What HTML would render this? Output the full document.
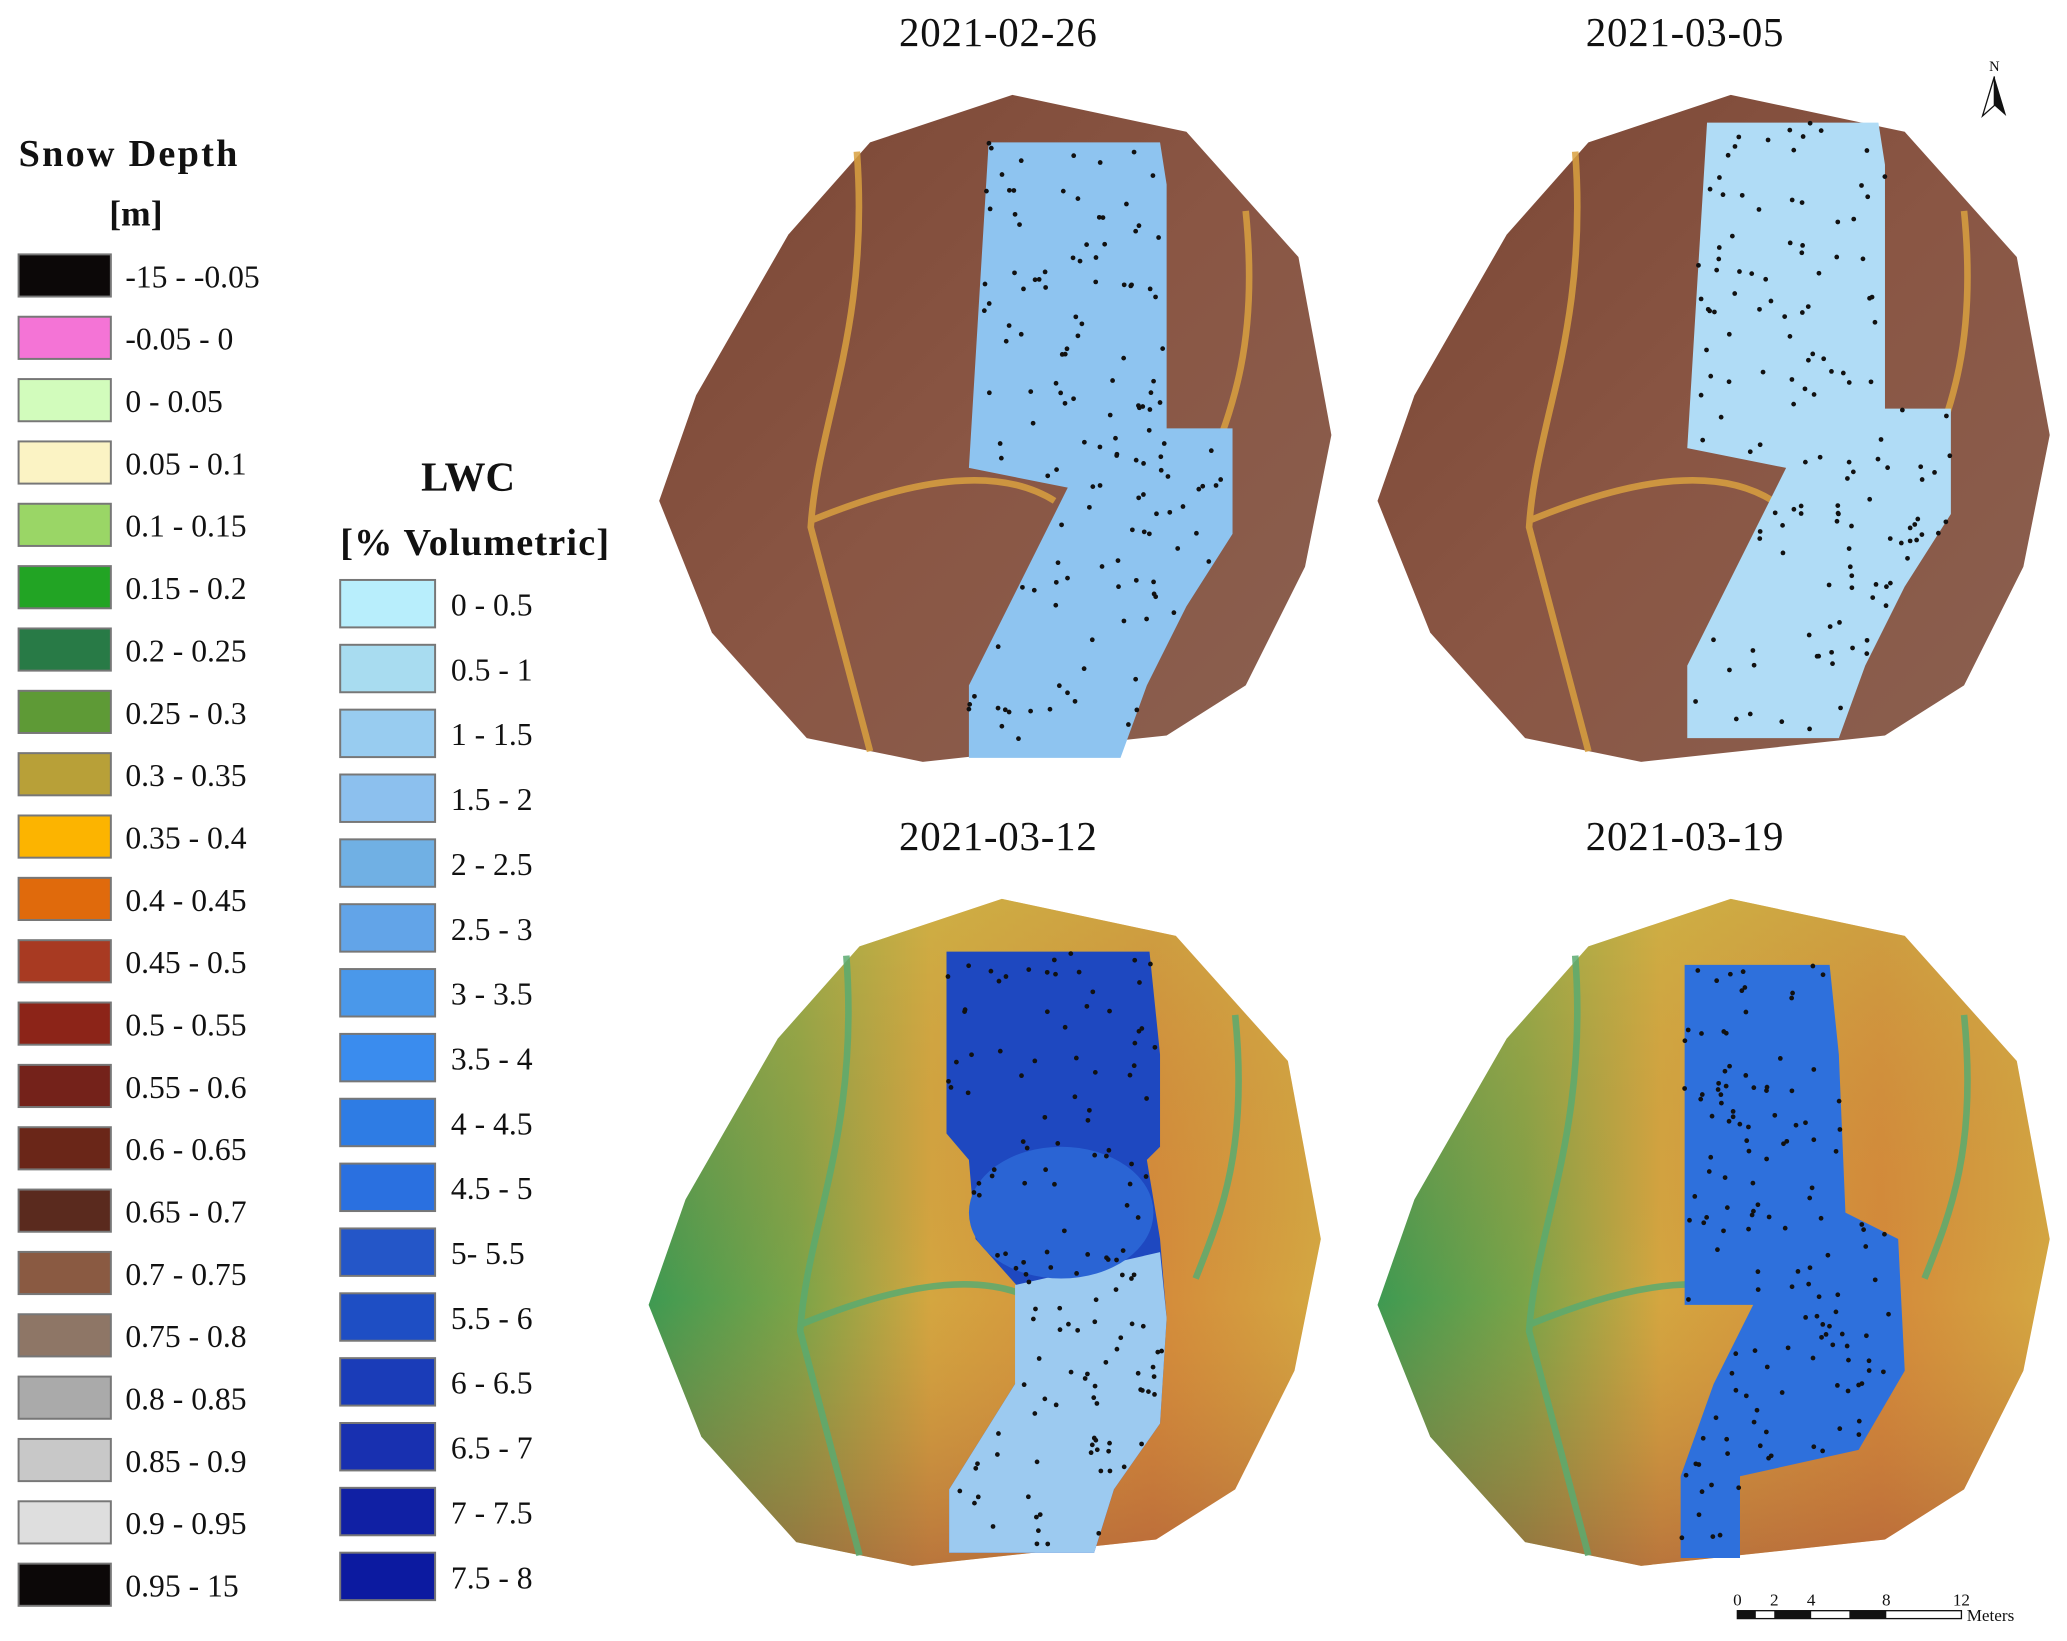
<!DOCTYPE html>
<html><head><meta charset="utf-8">
<style>
html,body{margin:0;padding:0;background:#fff;}
svg{display:block;}
text{font-family:"Liberation Serif",serif;fill:#111;}
</style></head>
<body>
<svg id="fig" width="2067" height="1641" viewBox="0 0 1568 1245" xmlns="http://www.w3.org/2000/svg">
<defs>
<linearGradient id="gBrown" x1="0" y1="0" x2="1" y2="1">
<stop offset="0" stop-color="#7a4634"/><stop offset="0.5" stop-color="#8a5644"/><stop offset="1" stop-color="#8a6050"/>
</linearGradient>
<linearGradient id="gWarm" x1="0" y1="0" x2="1" y2="0">
<stop offset="0" stop-color="#3e9a52"/><stop offset="0.22" stop-color="#7aa448"/><stop offset="0.42" stop-color="#d4a640"/><stop offset="0.75" stop-color="#d48a3a"/><stop offset="1" stop-color="#d4a842"/>
</linearGradient>
<linearGradient id="gWarm2" x1="0" y1="0" x2="0" y2="1">
<stop offset="0" stop-color="#c8b848" stop-opacity="0.5"/><stop offset="0.6" stop-color="#c47a3a" stop-opacity="0"/><stop offset="1" stop-color="#a8553a" stop-opacity="0.6"/>
</linearGradient>
</defs>
<g id="legend-snow"></g>
<g id="legend-lwc"></g>
<g id="maps"></g>
<g>
<text x="1513" y="54" font-size="11" text-anchor="middle">N</text>
<path d="M1513 58 L1504 88 L1513 80 Z" fill="#fff" stroke="#111" stroke-width="1"/>
<path d="M1513 58 L1522 88 L1513 80 Z" fill="#111"/>
</g>
<g>
<rect x="1318" y="1222" width="170" height="6" fill="#fff" stroke="#111" stroke-width="1"/>
<rect x="1318" y="1222" width="14" height="6" fill="#111"/>
<rect x="1346" y="1222" width="28" height="6" fill="#111"/>
<rect x="1403" y="1222" width="28" height="6" fill="#111"/>
<text x="1318" y="1218" font-size="13" text-anchor="middle">0</text>
<text x="1346" y="1218" font-size="13" text-anchor="middle">2</text>
<text x="1374" y="1218" font-size="13" text-anchor="middle">4</text>
<text x="1431" y="1218" font-size="13" text-anchor="middle">8</text>
<text x="1488" y="1218" font-size="13" text-anchor="middle">12</text>
<text x="1492" y="1230" font-size="13">Meters</text>
</g>
</svg>
<script>
const NS='http://www.w3.org/2000/svg';
const snowLabels=['-15 - -0.05','-0.05 - 0','0 - 0.05','0.05 - 0.1','0.1 - 0.15','0.15 - 0.2','0.2 - 0.25','0.25 - 0.3','0.3 - 0.35','0.35 - 0.4','0.4 - 0.45','0.45 - 0.5','0.5 - 0.55','0.55 - 0.6','0.6 - 0.65','0.65 - 0.7','0.7 - 0.75','0.75 - 0.8','0.8 - 0.85','0.85 - 0.9','0.9 - 0.95','0.95 - 15'];
const snowColors=['#0c0808','#f474d6','#d2fcbc','#fbf3c4','#9ad666','#22a424','#287a46','#5e9a36','#b8a038','#fcb400','#e06a0c','#a83a22','#8c2418','#74221a','#6a2618','#5a2a1e','#8a5a42','#8e7666','#aaaaaa','#c8c8c8','#dedede','#0c0808'];
const lwcLabels=['0 - 0.5','0.5 - 1','1 - 1.5','1.5 - 2','2 - 2.5','2.5 - 3','3 - 3.5','3.5 - 4','4 - 4.5','4.5 - 5',' 5- 5.5','5.5 - 6','6 - 6.5','6.5 - 7','7 - 7.5','7.5 - 8'];
const lwcColors=['#b8eefc','#a8dcf0','#98ccf0','#8cc0ee','#70b0e4','#62a4e8','#4a98ea','#3a8cee','#2e7ce4','#2a70e0','#2456c8','#1e4ec4','#1a3cb8','#1830b0','#1020a4','#0c1aa0'];
const dates=['2021-02-26','2021-03-05','2021-03-12','2021-03-19'];
const panelX=[0,545,-8,545];
const panelY=[0,0,610,610];

function el(tag,attrs,parent){const e=document.createElementNS(NS,tag);for(const k in attrs)e.setAttribute(k,attrs[k]);parent.appendChild(e);return e;}

const ls=document.getElementById('legend-snow');
let t=el('text',{x:14,y:126,'font-size':29,'font-weight':'bold',textLength:166},ls);t.textContent='Snow Depth';

t=el('text',{x:103,y:171,'font-size':27,'font-weight':'bold','text-anchor':'middle'},ls);t.textContent='[m]';

snowLabels.forEach((lab,i)=>{
  const y=193+i*47.3;
  const r=el('rect',{x:14,y:y,width:70,height:32,fill:snowColors[i],stroke:'#777','stroke-width':1.5},ls);
  
  
  const tx=el('text',{x:95,y:y+25,'font-size':24},ls);tx.textContent=lab;
  
  
});
const ll=document.getElementById('legend-lwc');
t=el('text',{x:355,y:372,'font-size':31,'font-weight':'bold','text-anchor':'middle'},ll);t.textContent='LWC';

t=el('text',{x:258,y:421,'font-size':29,'font-weight':'bold',textLength:204},ll);t.textContent='[% Volumetric]';

lwcLabels.forEach((lab,i)=>{
  const y=440+i*49.2;
  const r=el('rect',{x:258,y:y,width:72,height:36,fill:lwcColors[i],stroke:'#777','stroke-width':1.5},ll);
  
  
  const tx=el('text',{x:342,y:y+27,'font-size':24},ll);tx.textContent=lab;
  
  
});

const outline=[[500,380],[528,300],[598,178],[660,108],[768,72],[900,100],[985,195],[1010,330],[990,430],[945,520],[885,558],[700,578],[612,560],[540,480]];
const blueTop=[[750,108],[880,108],[885,140],[885,325],[935,325],[935,405],[900,460],[870,520],[850,575],[735,575],[735,520],[810,370],[735,355]];
const blueBot=[[718,722],[872,722],[880,800],[880,870],[870,880],[880,940],[885,1000],[880,1080],[845,1130],[830,1178],[720,1178],[720,1130],[770,1050],[780,985],[740,940],[735,880],[718,860]];
const blueBot2=[[1278,732],[1388,732],[1395,800],[1400,920],[1440,940],[1445,1040],[1410,1100],[1320,1120],[1320,1182],[1275,1182],[1275,1120],[1300,1050],[1330,990],[1278,990]];
const blueFill=[['#8ec4f0','#6aa8e6'],['#b0dcf6','#8ec8f0'],['#1e48c0','#9ccaf0'],['#2e70dc','#4a8ee6']];
const mapsG=document.getElementById('maps');
let seed=7;function rnd(){seed=(seed*16807)%2147483647;return seed/2147483647;}
function inside(p,poly){let c=false;for(let i=0,j=poly.length-1;i<poly.length;j=i++){const [xi,yi]=poly[i],[xj,yj]=poly[j];if(((yi>p[1])!=(yj>p[1]))&&(p[0]<(xj-xi)*(p[1]-yi)/(yj-yi)+xi))c=!c;}return c;}
dates.forEach((d,k)=>{
  const g=el('g',{},mapsG);
  
  
  const tx=el('text',{x:757+(k%2)*521,y:k<2?35:645,'font-size':31,'text-anchor':'middle',textLength:150},g);tx.textContent=d;
  
  
  const ox=panelX[k],oy=panelY[k];
  const pts=outline.map(p=>(p[0]+ox)+','+(p[1]+oy)).join(' ');
  const base=el('polygon',{points:pts,fill:k<2?'url(#gBrown)':'url(#gWarm)'},g);
  
  
  if(k>=2){el('polygon',{points:pts,fill:'url(#gWarm2)'},g);}
  const road=el('path',{d:`M${650+ox} ${115+oy} C${660+ox} ${250+oy} ${620+ox} ${320+oy} ${615+ox} ${400+oy} L${660+ox} ${570+oy} M${615+ox} ${395+oy} C${700+ox} ${360+oy} ${760+ox} ${355+oy} ${800+ox} ${380+oy} M${945+ox} ${160+oy} C${955+ox} ${260+oy} ${935+ox} ${310+oy} ${915+ox} ${360+oy}`,fill:'none',stroke:k<2?'#d8a040':'#5aaa70','stroke-width':5,opacity:0.85},g);
  
  
  let poly=k<2?blueTop.map(p=>[p[0]+ox,p[1]+oy]):(k==2?blueBot:blueBot2);
  if(k==1) poly=blueTop.map(p=>[p[0]+ox,p[1]+oy-15]);
  const b=el('polygon',{points:poly.map(p=>p.join(',')).join(' '),fill:blueFill[k][0]},g);
  
  
  if(k==2){
    const lower=el('polygon',{points:'770,975 880,950 885,1000 880,1080 845,1130 830,1178 720,1178 720,1130 770,1050',fill:blueFill[k][1]},g);
    
    
    const mid=el('ellipse',{cx:805,cy:920,rx:70,ry:50,fill:'#2a64d4'},g);
    
    
  }
  let n=0,tries=0;
  while(n<140&&tries<5000){tries++;
    let xs=poly.map(p=>p[0]),ys=poly.map(p=>p[1]);
    const p=[Math.min(...xs)+rnd()*(Math.max(...xs)-Math.min(...xs)),Math.min(...ys)+rnd()*(Math.max(...ys)-Math.min(...ys))];
    if(inside(p,poly)){n++;
      const c=el('circle',{cx:p[0].toFixed(1),cy:p[1].toFixed(1),r:1.8,fill:'#111'},g);
      
      
    }
  }
});
</script>
</body></html>
